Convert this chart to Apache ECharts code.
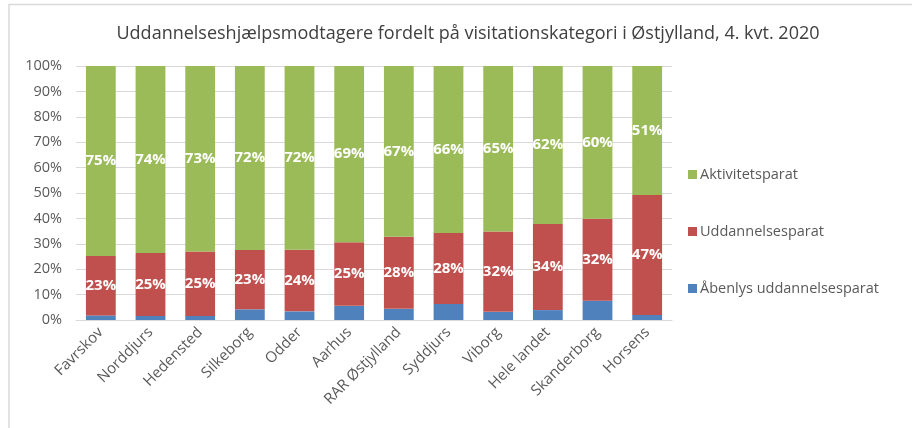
<!DOCTYPE html>
<html>
<head>
<meta charset="utf-8">
<script src="https://cdn.jsdelivr.net/npm/echarts@6/dist/echarts.min.js"></script>
<style>
  html, body { margin: 0; padding: 0; background: #fff; }
</style>
</head>
<body>
<div id="myChart" style="width: 912px; height: 428px;"></div>
<script>
var categories = ["Favrskov", "Norddjurs", "Hedensted", "Silkeborg", "Odder", "Aarhus",
  "RAR Østjylland", "Syddjurs", "Viborg", "Hele landet", "Skanderborg", "Horsens"];
var aabenlys = [1.8, 1.6, 1.6, 4.2, 3.4, 5.6, 4.4, 6.3, 3.2, 3.9, 7.6, 2.0];
var uddannelse = [23.4, 24.8, 25.4, 23.4, 24.3, 25.0, 28.4, 28.0, 31.6, 33.9, 32.3, 47.2];
var aktivitet = [74.8, 73.6, 73.0, 72.4, 72.3, 69.4, 67.2, 65.7, 65.2, 62.2, 60.1, 50.8];
var yTicks = [0, 10, 20, 30, 40, 50, 60, 70, 80, 90, 100];

var font = "Open Sans";
var labelStyle = {
  show: true,
  position: "inside",
  color: "#ffffff",
  fontWeight: "bold",
  fontSize: 15,
  fontFamily: font,
  formatter: function (p) { return Math.round(p.value) + "%"; }
};

// chart
var myChart = echarts.init(document.getElementById("myChart"));
myChart.setOption({
  animation: false,
  color: ["#4f81bd", "#c0504d", "#9bbb59"],
  title: {
    text: "Uddannelseshjælpsmodtagere fordelt på visitationskategori i Østjylland, 4. kvt. 2020",
    left: 463,
    top: 20,
    textAlign: "center",
    textStyle: { fontFamily: font, fontSize: 18, fontWeight: "normal", color: "#404040" }
  },
  legend: {
    orient: "vertical",
    left: 683,
    top: 162,
    itemWidth: 9,
    itemHeight: 9,
    itemGap: 42,
    icon: "rect",
    data: ["Aktivitetsparat", "Uddannelsesparat", "Åbenlys uddannelsesparat"],
    textStyle: { fontFamily: font, fontSize: 14.5, color: "#595959", padding: [0, 0, 0, -2] }
  },
  grid: { left: 76, right: 240, top: 66, bottom: 108 },
  xAxis: {
    type: "category",
    data: categories,
    axisLine: { lineStyle: { color: "#d9d9d9" } },
    axisTick: { show: false },
    axisLabel: { rotate: 45, interval: 0, fontFamily: font, fontSize: 15, color: "#595959", margin: 10 }
  },
  yAxis: {
    type: "value",
    min: yTicks[0],
    max: yTicks[yTicks.length - 1],
    interval: 10,
    axisLine: { show: false },
    axisTick: { show: false },
    axisLabel: { formatter: "{value}%", fontFamily: font, fontSize: 14.5, color: "#595959", margin: 14 },
    splitLine: { lineStyle: { color: "#d9d9d9" } }
  },
  graphic: [
    { type: "polyline", shape: { points: [[9, 428], [9, 4.5], [912, 4.5]] },
      style: { stroke: "#d9d9d9", fill: null, lineWidth: 1.5 } }
  ],
  series: [
    { name: "Åbenlys uddannelsesparat", type: "bar", stack: "a", barCategoryGap: "40%", data: aabenlys },
    { name: "Uddannelsesparat", type: "bar", stack: "a", data: uddannelse, label: labelStyle },
    { name: "Aktivitetsparat", type: "bar", stack: "a", data: aktivitet, label: labelStyle }
  ]
});
</script>
</body>
</html>
